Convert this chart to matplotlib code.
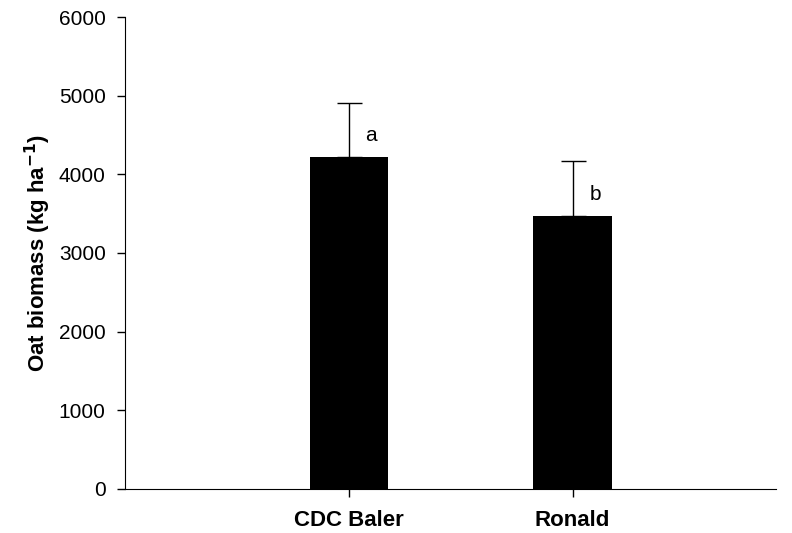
import numpy as np
import matplotlib.pyplot as plt

plt.rcParams['font.family'] = ['Liberation Sans', 'DejaVu Sans']

cultivars = ['CDC Baler', 'Ronald']
biomass = [4225, 3470]
err_up = [685, 695]
letters = ['a', 'b']

fig = plt.figure(figsize=(7.92, 5.33), dpi=100)
ax = fig.add_axes([0.158, 0.0826, 0.822, 0.8855])

x = np.arange(1, len(cultivars) + 1)
ax.bar(x, biomass, width=0.35, color='black', zorder=2)
ax.errorbar(x, biomass, yerr=[np.zeros(len(x)), err_up], fmt='none',
            ecolor='black', elinewidth=1, capsize=9, capthick=1, zorder=1)
for xi, v, e, l in zip(x, biomass, err_up, letters):
    ax.text(xi + 0.1, v + e * 0.4, l, fontsize=15, ha='center', va='center')

ax.set_xlim(0, 2.91)
ax.set_ylim(0, 6000)
ax.set_yticks(range(0, 6001, 1000))
ax.set_xticks(x)
ax.set_xticklabels(cultivars, fontweight='bold', fontsize=16)
ax.tick_params(axis='both', direction='out', length=6, width=1)
ax.tick_params(axis='y', labelsize=15, pad=8)
ax.tick_params(axis='x', pad=9)
ax.set_ylabel('Oat biomass (kg ha$^{\\mathbf{-1}}$)', fontsize=16, fontweight='bold', labelpad=4)
ax.spines['top'].set_visible(False)
ax.spines['right'].set_visible(False)

plt.savefig('out.png', dpi=100)
